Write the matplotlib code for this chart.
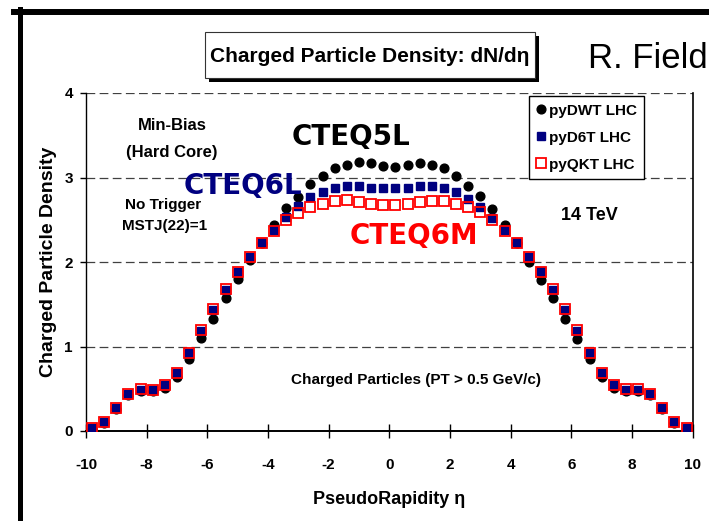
import matplotlib
matplotlib.use("Agg")
import matplotlib.pyplot as plt
from matplotlib.patches import Rectangle
from matplotlib.lines import Line2D

plt.rcParams['font.family'] = ['Liberation Sans', 'DejaVu Sans']
plt.rcParams['axes.unicode_minus'] = False

# bin centres of pseudorapidity
eta = [-9.8, -9.4, -9.0, -8.6, -8.2, -7.8, -7.4, -7.0, -6.6, -6.2,
       -5.8, -5.4, -5.0, -4.6, -4.2, -3.8, -3.4, -3.0, -2.6, -2.2,
       -1.8, -1.4, -1.0, -0.6, -0.2, 0.2, 0.6, 1.0, 1.4, 1.8,
       2.2, 2.6, 3.0, 3.4, 3.8, 4.2, 4.6, 5.0, 5.4, 5.8,
       6.2, 6.6, 7.0, 7.4, 7.8, 8.2, 8.6, 9.0, 9.4, 9.8]

# pyDWT LHC (CTEQ5L)
dwt = [0.02, 0.10, 0.26, 0.43, 0.47, 0.47, 0.51, 0.64, 0.85, 1.10,
       1.33, 1.57, 1.80, 2.02, 2.23, 2.44, 2.64, 2.77, 2.92, 3.02,
       3.11, 3.15, 3.18, 3.17, 3.14, 3.13, 3.15, 3.17, 3.15, 3.11,
       3.02, 2.90, 2.78, 2.63, 2.44, 2.23, 2.00, 1.79, 1.57, 1.33,
       1.09, 0.85, 0.64, 0.51, 0.47, 0.47, 0.43, 0.26, 0.10, 0.02]

# pyD6T LHC (CTEQ6L)
d6t = [0.03, 0.11, 0.27, 0.44, 0.49, 0.49, 0.54, 0.69, 0.92, 1.18,
       1.43, 1.67, 1.88, 2.06, 2.24, 2.38, 2.53, 2.66, 2.77, 2.83,
       2.87, 2.90, 2.90, 2.88, 2.88, 2.87, 2.88, 2.90, 2.90, 2.87,
       2.83, 2.75, 2.65, 2.52, 2.38, 2.24, 2.06, 1.89, 1.67, 1.43,
       1.18, 0.92, 0.69, 0.54, 0.49, 0.49, 0.44, 0.27, 0.11, 0.03]

# pyQKT LHC (CTEQ6M)
qkt = [0.03, 0.11, 0.27, 0.44, 0.50, 0.49, 0.54, 0.69, 0.92, 1.19,
       1.44, 1.68, 1.88, 2.06, 2.23, 2.37, 2.50, 2.58, 2.65, 2.69,
       2.72, 2.73, 2.71, 2.69, 2.68, 2.68, 2.69, 2.71, 2.72, 2.72,
       2.69, 2.65, 2.59, 2.50, 2.37, 2.23, 2.06, 1.88, 1.68, 1.44,
       1.19, 0.92, 0.69, 0.54, 0.50, 0.50, 0.44, 0.27, 0.11, 0.03]

x_ticks = [-10, -8, -6, -4, -2, 0, 2, 4, 6, 8, 10]
y_ticks = [0, 1, 2, 3, 4]

W, H = 709, 521


def fx(px):
    return px / W


def fy(py):
    return 1 - py / H


fig = plt.figure(figsize=(W / 100, H / 100), dpi=100)

# slide frame
fig.add_artist(Line2D([fx(14), fx(709)], [fy(12), fy(12)], color='black', lw=4.3))
fig.add_artist(Line2D([fx(19.5), fx(19.5)], [fy(9), fy(521)], color='black', lw=3.6))

# title box with shadow
fig.add_artist(Rectangle((fx(209), fy(82)), fx(535) - fx(205), fy(32) - fy(78),
                         transform=fig.transFigure, fc='black', ec='none'))
fig.add_artist(Rectangle((fx(205), fy(78)), fx(535) - fx(205), fy(32) - fy(78),
                         transform=fig.transFigure, fc='white', ec='#333333', lw=0.8))
fig.text(fx(370), fy(56), 'Charged Particle Density: dN/d\u03b7', ha='center', va='center',
         fontsize=15, fontweight='bold')
fig.text(fx(588), fy(59), 'R. Field', ha='left', va='center', fontsize=25)

ax = fig.add_axes([fx(86), fy(431), fx(692.7) - fx(86), fy(93) - fy(431)])

ax.plot(eta, dwt, 'o', color='black', ms=6.3, mec='black', label='pyDWT LHC', zorder=3)
ax.plot(eta, d6t, 's', color='#000080', ms=5.8, mec='#000080', label='pyD6T LHC', zorder=4)
ax.plot(eta, qkt, 's', mfc='none', mec='#ff0000', ms=6.6, mew=1.3, label='pyQKT LHC', zorder=5)

ax.set_xlim(-10, 10)
ax.set_ylim(0, 4)
ax.set_xticks(x_ticks)
ax.set_yticks(y_ticks)
ax.set_xticklabels([str(t) for t in x_ticks], fontsize=11, fontweight='bold')
ax.set_yticklabels([str(t) for t in y_ticks], fontsize=11, fontweight='bold')
ax.tick_params(axis='x', direction='inout', length=10.5, width=1, pad=14)
ax.tick_params(axis='y', direction='out', length=4.5, width=1, pad=5)

for y in [1, 2, 3, 4]:
    ax.axhline(y, color='#404040', lw=0.9, ls=(0, (7, 3.5)), zorder=1)

ax.spines['top'].set_visible(False)
ax.spines['bottom'].set_linewidth(1.4)
ax.spines['left'].set_linewidth(1.0)
ax.spines['right'].set_linewidth(1.2)

ax.set_xlabel('PseudoRapidity \u03b7', fontsize=13, fontweight='bold', labelpad=14)
ax.set_ylabel('Charged Particle Density', fontsize=14, fontweight='bold', labelpad=5)

leg = ax.legend(loc='upper left', bbox_to_anchor=(0.730, 0.991), borderaxespad=0,
                fancybox=False, edgecolor='black', framealpha=1,
                prop={'size': 11, 'weight': 'bold'}, handlelength=0.6,
                handletextpad=0.2, labelspacing=0.85, borderpad=0.5)
leg.get_frame().set_linewidth(1.0)

# annotations
tk = dict(ha='center', va='center', fontweight='bold', transform=fig.transFigure)
fig.text(fx(172), fy(125), 'Min-Bias', fontsize=12, **tk)
fig.text(fx(172), fy(152), '(Hard Core)', fontsize=12, **tk)
fig.text(fx(163), fy(205), 'No Trigger', fontsize=11, **tk)
fig.text(fx(165), fy(226), 'MSTJ(22)=1', fontsize=11, **tk)
fig.text(fx(589), fy(216), '14 TeV', fontsize=13, **tk)
fig.text(fx(416), fy(380), 'Charged Particles (PT > 0.5 GeV/c)', fontsize=11, **tk)

ck = dict(ha='center', va='center', fontweight='bold', fontsize=20,
          family='DejaVu Sans', transform=fig.transFigure)
fig.text(fx(351), fy(137), 'CTEQ5L', color='black', **ck)
fig.text(fx(243), fy(186), 'CTEQ6L', color='#000080', **ck)
fig.text(fx(414), fy(236), 'CTEQ6M', color='#ff0000', **ck)

fig.savefig('out.png', dpi=100)
